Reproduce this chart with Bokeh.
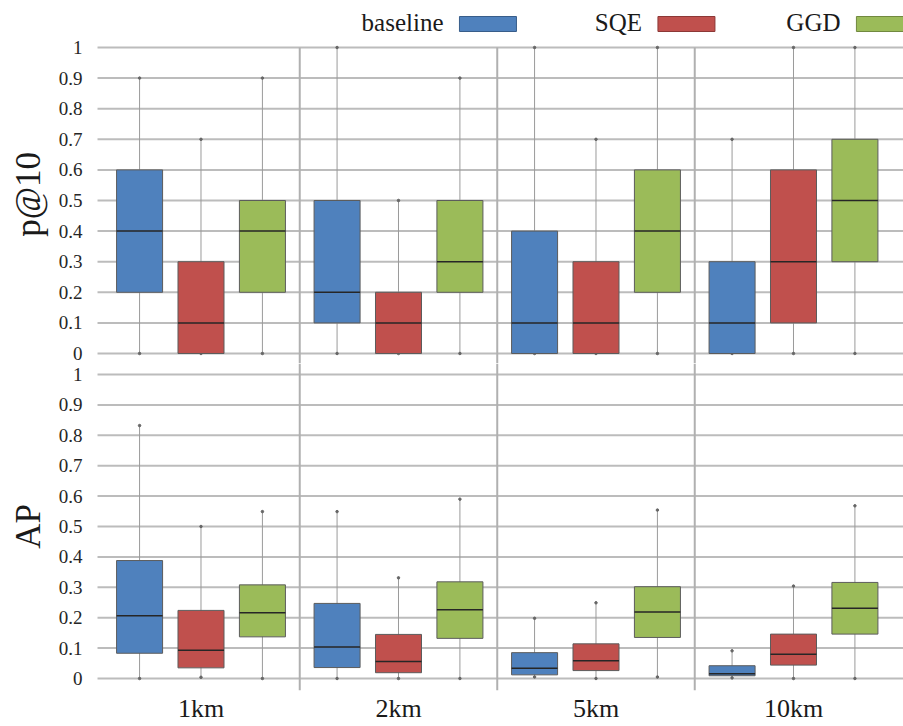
import numpy as np
from bokeh.plotting import figure
from bokeh.layouts import column
from bokeh.models import Range1d, FixedTicker
from bokeh.core.properties import value
from bokeh.embed import file_html
from bokeh.resources import INLINE

# Distances (x categories) and compared methods
groups = ["1km", "2km", "5km", "10km"]
series = ["baseline", "SQE", "GGD"]
colors = ["#4f81bd", "#c0504d", "#9bbb59"]
edge_colors = ["#385d8a", "#8c3836", "#71893f"]

# Each row: [low whisker, Q1, median, Q3, high whisker] for one distance
p10_baseline = [[0, 0.2, 0.4, 0.6, 0.9], [0, 0.1, 0.2, 0.5, 1.0],
                [0, 0.0, 0.1, 0.4, 1.0], [0, 0.0, 0.1, 0.3, 0.7]]
p10_sqe = [[0, 0.0, 0.1, 0.3, 0.7], [0, 0.0, 0.1, 0.2, 0.5],
           [0, 0.0, 0.1, 0.3, 0.7], [0, 0.1, 0.3, 0.6, 1.0]]
p10_ggd = [[0, 0.2, 0.4, 0.5, 0.9], [0, 0.2, 0.3, 0.5, 0.9],
           [0, 0.2, 0.4, 0.6, 1.0], [0, 0.3, 0.5, 0.7, 1.0]]

ap_baseline = [[0.0, 0.083, 0.206, 0.388, 0.832], [0.0, 0.036, 0.104, 0.247, 0.549],
               [0.005, 0.012, 0.034, 0.085, 0.198], [0.002, 0.009, 0.016, 0.042, 0.091]]
ap_sqe = [[0.004, 0.035, 0.093, 0.224, 0.5], [0.0, 0.019, 0.056, 0.145, 0.331],
          [0.0, 0.026, 0.058, 0.114, 0.249], [0.0, 0.044, 0.08, 0.146, 0.304]]
ap_ggd = [[0.0, 0.137, 0.216, 0.308, 0.549], [0.0, 0.132, 0.226, 0.318, 0.59],
          [0.005, 0.135, 0.219, 0.302, 0.554], [0.0, 0.146, 0.231, 0.316, 0.568]]

y_ticks = [round(0.1 * i, 1) for i in range(11)]
y_tick_labels = ["0", "0.1", "0.2", "0.3", "0.4", "0.5", "0.6", "0.7", "0.8", "0.9", "1"]

FONT = "Liberation Serif"
GRID = "#bcbcbc"
X_START, X_END = -0.5152, 4.057     # frame spans the full window width
GRID_LEFT = -0.024                  # where the plotting area begins
LABEL_X = -0.1                      # right edge of the value labels
TITLE_X = -0.374                    # centre of the rotated panel titles
x_range = Range1d(X_START, X_END)
offsets = [-0.311, 0.0, 0.311]
box_w = 0.233
separators = [1, 2, 3]


def panel(frame_height, y_start, y_end, data, label, label_y, show_x, bottom_border=0):
    p = figure(frame_width=903, frame_height=frame_height, x_range=x_range,
               y_range=Range1d(y_start, y_end), output_backend="svg",
               toolbar_location=None, min_border_left=0, min_border_right=0,
               min_border_top=0, min_border_bottom=bottom_border,
               x_axis_location="below" if show_x else None, y_axis_location=None)
    p.outline_line_color = None
    p.xgrid.visible = False
    p.ygrid.visible = False

    n = len(y_ticks)
    # horizontal value grid
    p.segment(x0=[GRID_LEFT] * n, y0=y_ticks, x1=[X_END] * n, y1=y_ticks,
              line_color=GRID, line_width=2, level="underlay")
    # distance-group separators
    sep_top = y_end if show_x else 1.0
    p.segment(x0=separators, y0=[y_start] * 3, x1=separators, y1=[sep_top] * 3,
              line_color="#b0b0b0", line_width=2, level="underlay")

    # value labels and panel title on the left
    p.text(x=[LABEL_X] * n, y=y_ticks, text=y_tick_labels, text_align="right",
           text_baseline="middle", text_font=value(FONT), text_font_size="19px",
           text_color="#262626")
    p.text(x=[TITLE_X], y=[label_y], text=[label], angle=np.pi / 2,
           text_align="center", text_baseline="middle", text_font=value(FONT),
           text_font_size="35px", text_color="#1a1a1a")

    if show_x:
        p.xaxis.ticker = FixedTicker(ticks=[i + 0.5 for i in range(len(groups))])
        p.xaxis.major_label_overrides = {i + 0.5: g for i, g in enumerate(groups)}
        p.xaxis.axis_line_color = None
        p.xaxis.major_tick_line_color = None
        p.xaxis.minor_tick_line_color = None
        p.xaxis.major_tick_out = 0
        p.xaxis.major_tick_in = 0
        p.xaxis.major_label_standoff = 3
        p.xaxis.major_label_text_font = FONT
        p.xaxis.major_label_text_font_size = "26px"
        p.xaxis.major_label_text_color = "#1a1a1a"

    for s, (color, stats) in enumerate(zip(colors, data)):
        st = np.array(stats, dtype=float)
        xs = np.arange(len(groups)) + 0.5 + offsets[s]
        # whiskers with small end points
        p.segment(xs, st[:, 0], xs, st[:, 4], line_color="#9a9a9a", line_width=1)
        p.scatter(np.concatenate([xs, xs]), np.concatenate([st[:, 0], st[:, 4]]),
                  size=2.5, color="#666666")
        # interquartile box
        p.vbar(x=xs, width=box_w, bottom=st[:, 1], top=st[:, 3],
               fill_color=color, line_color="#5c5c5c", line_width=1)
        # median
        p.segment(xs - box_w / 2, st[:, 2], xs + box_w / 2, st[:, 2],
                  line_color="#262626", line_width=1.5)
    return p


top = panel(363, -0.0327, 1.1536, [p10_baseline, p10_sqe, p10_ggd], "p@10", 0.52, False)

# legend row above the p@10 panel: label followed by a colour swatch
leg_text_x = [1.728 + 1.005 * k for k in range(len(series))]
leg_box_x = [t + 0.225 for t in leg_text_x]
top.text(x=leg_text_x, y=[1.0817] * len(series), text=series, text_align="right",
         text_baseline="middle", text_font=value(FONT), text_font_size="25px",
         text_color="#1a1a1a")
top.rect(x=leg_box_x, y=[1.0768] * len(series), width=57, height=15,
         width_units="screen", height_units="screen", fill_color=colors,
         line_color=edge_colors, line_width=1)

bottom = panel(327, -0.0395, 1.0362, [ap_baseline, ap_sqe, ap_ggd], "AP", 0.5, True,
               bottom_border=36)

layout = column(top, bottom, spacing=0)
open("out.html", "w").write(file_html(layout, INLINE))
